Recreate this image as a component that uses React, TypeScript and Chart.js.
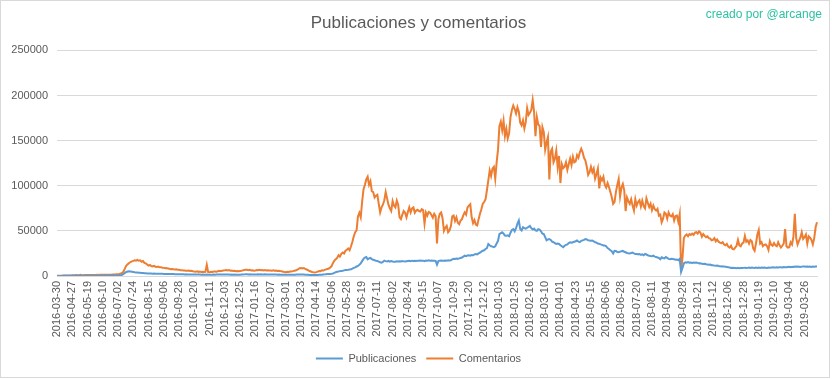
import React, { useEffect, useRef } from "react";
import { Chart, registerables } from "chart.js";

Chart.register(...registerables);

// One x-axis label every 11 points (each point ≈ 2 days)
const POINTS_PER_TICK = 11;

const tickLabels = [
  "2016-03-30", "2016-04-27", "2016-05-19", "2016-06-10", "2016-07-02", "2016-07-24",
  "2016-08-15", "2016-09-06", "2016-09-28", "2016-10-20", "2016-11-11", "2016-12-03",
  "2016-12-25", "2017-01-16", "2017-02-07", "2017-03-01", "2017-03-23", "2017-04-14",
  "2017-05-06", "2017-05-28", "2017-06-19", "2017-07-11", "2017-08-02", "2017-08-24",
  "2017-09-15", "2017-10-07", "2017-10-29", "2017-11-20", "2017-12-12", "2018-01-03",
  "2018-01-25", "2018-02-16", "2018-03-10", "2018-04-01", "2018-04-23", "2018-05-15",
  "2018-06-06", "2018-06-28", "2018-07-20", "2018-08-11", "2018-09-04", "2018-09-28",
  "2018-10-21", "2018-11-12", "2018-12-06", "2018-12-28", "2019-01-19", "2019-02-10",
  "2019-03-04", "2019-03-26",
];

const publicaciones = [
  100, 120, 110, 130, 120, 150, 140, 160, 150, 180, 170,
  200, 190, 230, 210, 250, 230, 260, 240, 280, 270, 290,
  300, 320, 310, 340, 330, 360, 350, 380, 370, 400, 390,
  410, 430, 420, 450, 440, 470, 460, 490, 480, 520, 560,
  600, 700, 900, 1300, 2200, 3500, 4500, 5000, 5200, 5100, 4800,
  4500, 4200, 4000, 3800, 3600, 3500, 3400, 3300, 3100, 3000, 2900,
  2800, 2700, 2750, 2600, 2650, 2500, 2550, 2500, 2400, 2450, 2400,
  2300, 2350, 2200, 2250, 2200, 2100, 2150, 2100, 2000, 2050, 2000,
  2000, 1900, 1950, 1900, 1800, 1850, 1800, 1750, 1700, 1750, 1700,
  1700, 1600, 1650, 1600, 1550, 1500, 1550, 1500, 1500, 1700, 1500,
  1500, 1450, 1500, 1550, 1500, 1600, 1550, 1600, 1650, 1600, 1600,
  1600, 1700, 1600, 1650, 1500, 1600, 1500, 1550, 1500, 1450, 1500,
  1500, 1600, 1700, 1800, 1900, 1900, 1800, 1850, 1700, 1750, 1700,
  1700, 1750, 1800, 1700, 1800, 1700, 1650, 1800, 1700, 1750, 1700,
  1700, 1650, 1600, 1650, 1600, 1500, 1550, 1500, 1400, 1450, 1300,
  1300, 1350, 1400, 1350, 1400, 1500, 1450, 1500, 1600, 1700, 1800,
  1800, 1700, 1600, 1500, 1400, 1300, 1200, 1100, 1150, 1100, 1100,
  1100, 1200, 1300, 1400, 1500, 1700, 1800, 2000, 2100, 2200, 2300,
  2500, 2800, 3500, 4200, 4800, 5000, 5400, 5600, 5800, 6200, 6600,
  6700, 6900, 7200, 7500, 8200, 9000, 9600, 10500, 11100, 12500, 14000,
  16500, 19000, 20400, 21000, 18500, 19500, 20000, 18800, 18000, 17400, 17000,
  16700, 16000, 15200, 14800, 15500, 17000, 16500, 16200, 16700, 16000, 16500,
  16000, 15800, 15900, 16200, 16000, 16300, 16000, 16500, 16200, 16000, 16400,
  16600, 16800, 16500, 17000, 16700, 16900, 16600, 17000, 16800, 17200, 17000,
  17000, 16500, 17200, 17000, 17300, 17000, 17200, 16800, 17000, 16700, 12500,
  16500, 17000, 17200, 17000, 16800, 17200, 17000, 17400, 17200, 17500, 18500,
  19000, 18800, 19300, 19000, 19500, 20000, 20500, 21500, 22500, 22000, 22800,
  23000, 22500, 23300, 23000, 24000, 24400, 24000, 25000, 26000, 27000, 28000,
  28500, 30000, 31000, 35500, 34000, 33000, 32500, 31900, 33000, 36000, 39000,
  46500, 47500, 48500, 47000, 44800, 44500, 45000, 44000, 48000, 51000, 52000,
  49500, 53000, 58000, 61500, 52000, 50500, 54000, 53000, 52500, 53500, 54500,
  55500, 53000, 51500, 52500, 50500, 50000, 52000, 51500, 49500, 47000, 46500,
  43000, 39500, 40500, 41000, 40000, 38000, 37400, 36500, 35600, 36000, 35500,
  34000, 33000, 32000, 33500, 34500, 35000, 36500, 37400, 36800, 37400, 38000,
  38500, 39300, 38000, 37500, 39000, 39500, 40000, 41000, 40500, 39500, 39300,
  39000, 39300, 38500, 37400, 37000, 36000, 35600, 35000, 34500, 33700, 33700,
  33000, 31000, 30000, 28500, 27500, 25000, 28000, 27800, 26500, 26300, 27000,
  27500, 27800, 26800, 26300, 25500, 25200, 25000, 25500, 25900, 25000, 24500,
  24500, 24000, 24400, 23500, 24000, 23000, 24400, 23800, 23000, 22500, 22200,
  22000, 22500, 21500, 21000, 20500, 20000, 18500, 20700, 20000, 19500, 21000,
  20000, 19000, 18500, 19000, 18900, 18500, 18000, 18300, 17500, 19000, 4500,
  9000, 14000, 15200, 14800, 15500, 14800, 15000, 14500, 15000, 14600, 15000,
  14500, 14000, 14200, 13500, 13300, 13600, 13000, 12800, 12500, 12700, 12000,
  11800, 11500, 11300, 11500, 11000, 10800, 10600, 10800, 10400, 10200, 10000,
  9800, 9500, 9000, 9200, 8800, 8900, 8700, 9000, 8500, 8800, 8900,
  9000, 9200, 8800, 9000, 9300, 9000, 9500, 9200, 9000, 9300, 9000,
  9300, 9000, 9400, 9100, 9500, 9200, 9000, 9400, 9100, 9300, 9600,
  9500, 9300, 9700, 9400, 9600, 9800, 9500, 9900, 9600, 9800, 10000,
  10200, 9800, 10300, 10000, 10500, 10200, 10600, 10300, 10000, 10400, 10600,
  10400, 10200, 10600, 10300, 10500, 10000, 10400, 10200, 10600, 10500,
];

const comentarios = [
  300, 350, 400, 400, 450, 500, 500, 550, 600, 600, 650,
  700, 750, 800, 1200, 900, 850, 1300, 900, 950, 1000, 1000,
  1000, 1100, 1050, 1150, 1100, 1200, 1150, 1250, 1200, 1300, 1250,
  1300, 1350, 1400, 1350, 1450, 1500, 1450, 1550, 1600, 1700, 1900,
  2000, 2300, 2800, 3500, 5000, 8500, 11500, 13000, 14500, 15500, 16200,
  16800, 17500, 17000, 17800, 16900, 17300, 15800, 16500, 14500, 14000, 12800,
  11500, 12200, 11000, 10700, 11200, 10300, 10000, 10400, 9600, 9800, 9200,
  9000, 8600, 8800, 8200, 8000, 7600, 7800, 7400, 7200, 7400, 6900,
  6800, 6400, 6500, 6100, 6200, 5900, 5800, 6000, 5500, 5700, 5300,
  5000, 4800, 5200, 4600, 4900, 4500, 4700, 4400, 4600, 12500, 4300,
  4200, 4600, 4400, 4900, 5100, 4800, 5300, 5700, 5400, 5900, 6100,
  6300, 6700, 6200, 6500, 5900, 6100, 5600, 5800, 5300, 5500, 5200,
  5500, 5800, 6200, 6600, 6900, 7000, 6500, 6800, 6200, 6400, 5900,
  6100, 6500, 6300, 6800, 6400, 6600, 6200, 6500, 6000, 6300, 6100,
  6200, 5900, 6300, 5800, 6100, 5600, 5800, 5400, 5200, 4800, 4300,
  4200, 4600, 4400, 4900, 5100, 5400, 5800, 6000, 6900, 7700, 8600,
  8900, 8300, 8700, 7900, 7200, 6400, 5500, 5000, 4400, 4000, 3800,
  4300, 4900, 5600, 5400, 6200, 6000, 6800, 7300, 7800, 8300, 9500,
  11000, 14500, 17000, 18500, 20000, 23000, 21500, 24500, 26000, 25000, 28000,
  29000, 30500, 28500, 33000, 38000, 44000, 48500, 50500, 66000, 70000, 65000,
  82000, 96000, 101000, 107000, 110000, 101000, 105000, 94000, 93000, 87000, 89000,
  90000, 80000, 70500, 76000, 79000, 84000, 93000, 86000, 79000, 75000, 72000,
  83000, 78000, 76000, 83500, 79000, 65000, 63000, 68000, 72000, 70000, 65000,
  71000, 76000, 70500, 75000, 76000, 70000, 72500, 73500, 72000, 71500, 74000,
  73000, 58000, 70500, 67000, 71000, 70000, 67500, 64500, 69000, 66500, 36000,
  63000, 69000, 70500, 64000, 50000, 53500, 55500, 48500, 50500, 55000, 66000,
  67000, 61000, 65000, 59000, 57500, 61500, 63000, 67500, 70500, 68000, 76000,
  78000, 79500, 65000, 58500, 62000, 57000, 56000, 63000, 69000, 74000, 80000,
  82000, 85000, 95000, 106000, 117000, 111000, 119000, 121000, 108000, 126000, 140000,
  166000, 171000, 161500, 172000, 155000, 163000, 152500, 158000, 176000, 184000, 189000,
  185000, 180000, 187000, 182000, 170000, 167000, 172500, 163500, 170500, 186000, 178500,
  181000, 184000, 195000, 182000, 155000, 176000, 168000, 166000, 143000, 165000, 159500,
  140000, 148000, 154000, 107000, 138000, 141000, 126000, 130000, 139000, 121000, 133000,
  103000, 124000, 119500, 121000, 126000, 117500, 124000, 130000, 123000, 132000, 126000,
  127000, 134000, 131000, 137000, 141000, 137000, 131000, 128000, 121000, 112000, 115000,
  121000, 115000, 119000, 108000, 113000, 119000, 97000, 109000, 106000, 110000, 101000,
  98000, 103000, 98500, 93000, 87500, 80000, 82000, 93000, 101000, 107500, 88000,
  98000, 102000, 95000, 72000, 87000, 83000, 80000, 85000, 78000, 72500, 85000,
  78000, 82000, 84000, 77000, 83500, 77500, 75000, 86000, 81000, 76500, 80000,
  73000, 78000, 74000, 72500, 74500, 67000, 68000, 59500, 63500, 70500, 69000,
  63500, 70500, 67000, 66000, 68500, 61500, 66500, 67000, 60000, 68500, 6000,
  20000, 42000, 44800, 46000, 44000, 46500, 45500, 47000, 45500, 48000, 48500,
  47000, 49500, 48000, 43500, 46500, 44500, 43000, 44000, 42000, 41500, 39500,
  40000, 42000, 38500, 40500, 38000, 37000, 36500, 37500, 35000, 34000, 35500,
  32500, 31500, 33500, 30000, 29500, 31500, 33500, 40000, 34000, 33000, 36000,
  37000, 44500, 38000, 39500, 36000, 40000, 38500, 30500, 28000, 36000, 46000,
  51000, 36000, 37500, 33000, 34500, 35000, 33000, 29000, 38500, 34500, 33500,
  36500, 34000, 33000, 37500, 34000, 31500, 33500, 36000, 52000, 33000, 31500,
  32000, 37500, 35000, 43500, 69000, 42000, 35000, 39000, 42500, 48500, 41000,
  43000, 46000, 36000, 44000, 42500, 40000, 35000, 42000, 54000, 59500,
];

const categories = comentarios.map((_, i) =>
  i % POINTS_PER_TICK === 0 ? tickLabels[i / POINTS_PER_TICK] : ""
);

const TEXT_GRAY = "#595959";
const GRID_GRAY = "#d9d9d9";
const FONT = "'Liberation Sans', Arial, sans-serif";

const creditsPlugin = {
  id: "credits",
  afterDraw(chart: any) {
    const ctx = chart.ctx;
    ctx.save();
    ctx.font = `12px ${FONT}`;
    ctx.fillStyle = "#2cc3a3";
    ctx.textAlign = "right";
    ctx.textBaseline = "middle";
    ctx.fillText("creado por @arcange", 822, 15);
    ctx.strokeStyle = GRID_GRAY;
    ctx.lineWidth = 1;
    ctx.strokeRect(0.5, 0.5, 829, 377);
    ctx.restore();
  },
};

export default function App() {
  const canvasRef = useRef<HTMLCanvasElement>(null);

  useEffect(() => {
    if (!canvasRef.current) return;
    Chart.defaults.font.family = FONT;
    const chart = new Chart(canvasRef.current, {
      type: "line",
      data: {
        labels: categories,
        datasets: [
          {
            label: "Publicaciones",
            data: publicaciones,
            borderColor: "#5b9bd5",
            backgroundColor: "#5b9bd5",
            borderWidth: 2,
            pointRadius: 0,
            tension: 0,
          },
          {
            label: "Comentarios",
            data: comentarios,
            borderColor: "#ed7d31",
            backgroundColor: "#ed7d31",
            borderWidth: 2,
            pointRadius: 0,
            tension: 0,
          },
        ],
      },
      options: {
        responsive: false,
        animation: false,
        events: [],
        layout: { padding: { left: 5, right: 0, top: 0, bottom: 5 } },
        plugins: {
          title: {
            display: true,
            text: "Publicaciones y comentarios",
            color: TEXT_GRAY,
            font: { size: 17, weight: "normal", family: FONT },
            padding: { top: 13, bottom: 17 },
          },
          legend: {
            position: "bottom",
            labels: {
              usePointStyle: true,
              pointStyle: "line",
              pointStyleWidth: 27,
              color: TEXT_GRAY,
              font: { size: 11, family: FONT },
              padding: 10,
            },
          },
          tooltip: { enabled: false },
        },
        scales: {
          x: {
            type: "category",
            offset: false,
            grid: { display: false, drawTicks: false },
            border: { display: true, color: GRID_GRAY },
            ticks: {
              autoSkip: false,
              maxRotation: 90,
              minRotation: 90,
              padding: 5,
              color: TEXT_GRAY,
              font: { size: 11, family: FONT },
              callback: (_v: any, i: number) => categories[i] || null,
            },
            afterFit: (scale: any) => {
              scale.height = 67;
            },
          },
          y: {
            min: 0,
            max: 250000,
            grid: { color: GRID_GRAY, drawTicks: false },
            border: { display: false },
            ticks: {
              stepSize: 50000,
              padding: 9,
              color: TEXT_GRAY,
              font: { size: 11, family: FONT },
              callback: (v: any) => String(v),
            },
            afterFit: (scale: any) => {
              scale.width = 52;
            },
          },
          rightSpace: {
            type: "linear",
            position: "right",
            display: true,
            grid: { display: false, drawTicks: false },
            border: { display: false },
            ticks: { display: false },
            afterFit: (scale: any) => {
              scale.width = 15;
            },
          },
        },
      },
      plugins: [creditsPlugin],
    });
    return () => chart.destroy();
  }, []);

  return (
    <div style={{ position: "fixed", left: 0, top: 0, width: 832, height: 379, background: "#fff" }}>
      <canvas ref={canvasRef} width={832} height={379} style={{ display: "block" }} />
    </div>
  );
}
